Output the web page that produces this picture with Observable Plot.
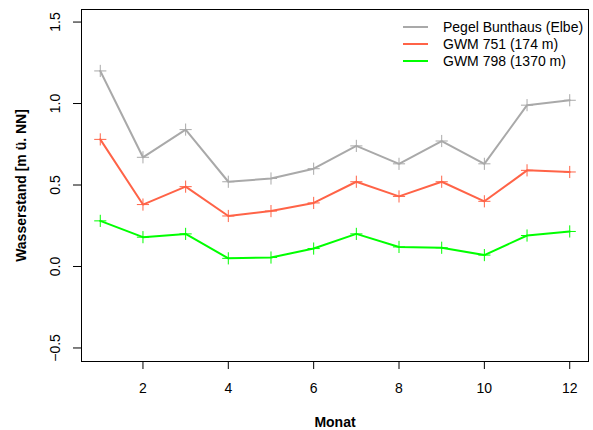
<!DOCTYPE html>
<html>
<head>
<meta charset="utf-8">
<script src="https://cdn.jsdelivr.net/npm/d3@7"></script>
<script src="https://cdn.jsdelivr.net/npm/@observablehq/plot@0.6"></script>
<style>
  html, body { margin: 0; padding: 0; background: #fff; }
</style>
</head>
<body>
<div id="chart"></div>
<script>
const months = [1, 2, 3, 4, 5, 6, 7, 8, 9, 10, 11, 12];
const pegel  = [1.20, 0.67, 0.84, 0.52, 0.54, 0.60, 0.74, 0.63, 0.77, 0.63, 0.99, 1.02];
const gwm751 = [0.78, 0.38, 0.49, 0.31, 0.34, 0.39, 0.52, 0.43, 0.52, 0.40, 0.59, 0.58];
const gwm798 = [0.28, 0.18, 0.20, 0.05, 0.055, 0.11, 0.20, 0.12, 0.115, 0.07, 0.19, 0.215];
const seriesNames = ["Pegel Bunthaus (Elbe)", "GWM 751 (174 m)", "GWM 798 (1370 m)"];
const seriesColors = ["#A9A9A9", "#FF6347", "#00FF00"];
const xTicks = [2, 4, 6, 8, 10, 12];
const yTicks = [-0.5, 0, 0.5, 1.0, 1.5];
const xLabel = "Monat";
const yLabel = "Wasserstand [m ü. NN]";

const seriesValues = [pegel, gwm751, gwm798];
const data = [];
seriesNames.forEach((name, s) => {
  months.forEach((m, i) => data.push({month: m, value: seriesValues[s][i], series: name}));
});

const fmt = d3.format(".1f");
const font = "'Liberation Sans', Arial, Helvetica, sans-serif";

const chart = Plot.plot({
  width: 593,
  height: 430,
  marginLeft: 81,
  marginTop: 9,
  marginRight: 5,
  marginBottom: 69,
  style: {fontFamily: font, fontSize: "14px", color: "#000", background: "#fff"},
  x: {domain: [0.56, 12.44]},
  y: {domain: [-0.583, 1.577]},
  color: {domain: seriesNames, range: seriesColors},
  marks: [
    Plot.axisX({ticks: xTicks, tickSize: 8, tickPadding: 14, label: null, fontSize: 14, stroke: "#000"}),
    Plot.axisY({ticks: yTicks, tickSize: 8, tickFormat: () => "", label: null, stroke: "#000"}),
    Plot.text(yTicks, {y: d => d, text: d => fmt(d), frameAnchor: "left", dx: -25.5, rotate: -90,
      textAnchor: "middle", lineAnchor: "middle", fontSize: 14, fill: "#000"}),
    Plot.text([xLabel], {text: d => d, frameAnchor: "bottom", dy: 61, lineAnchor: "middle",
      fontWeight: "bold", fontSize: 14, fill: "#000"}),
    Plot.text([yLabel], {text: d => d, frameAnchor: "left", dx: -59.5, rotate: -90,
      textAnchor: "middle", lineAnchor: "middle", fontWeight: "bold", fontSize: 14, fill: "#000"}),
    Plot.line(data, {x: "month", y: "value", z: "series", stroke: "series", strokeWidth: 2}),
    Plot.dot(data, {x: "month", y: "value", stroke: "series", symbol: "plus", r: 4, strokeWidth: 1}),
    Plot.frame({stroke: "#000", strokeWidth: 1})
  ]
});

document.getElementById("chart").appendChild(chart);

// Legend (top-right, inside the plot box)
const svg = d3.select(chart);
const lg = svg.append("g").attr("font-family", font).attr("font-size", 14).attr("text-anchor", "start");
seriesNames.forEach((name, i) => {
  const y = 27 + i * 17;
  lg.append("line").attr("x1", 403).attr("x2", 428).attr("y1", y).attr("y2", y)
    .attr("stroke", seriesColors[i]).attr("stroke-width", 2);
  lg.append("text").attr("x", 443).attr("y", y).attr("dy", "0.35em")
    .attr("text-anchor", "start").attr("fill", "#000").text(name);
});
</script>
</body>
</html>
